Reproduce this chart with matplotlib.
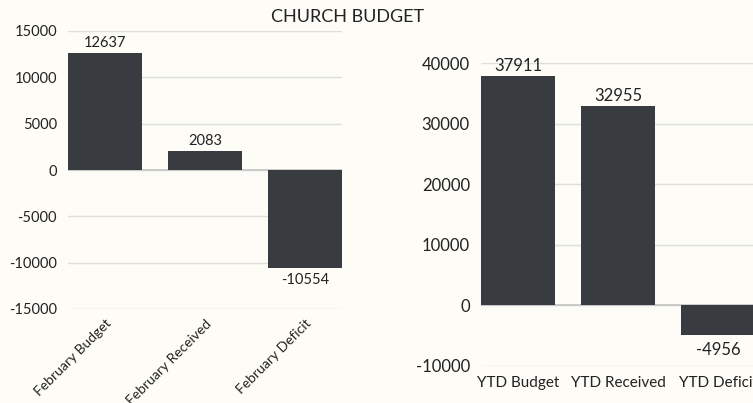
import matplotlib
matplotlib.use('agg')
import matplotlib.pyplot as plt

plt.rcParams['font.family'] = ['Lato', 'DejaVu Sans']

# data
feb_labels = ["February Budget", "February Received", "February Deficit"]
feb_values = [12637, 2083, -10554]
feb_ticks = [-15000, -10000, -5000, 0, 5000, 10000, 15000]

ytd_labels = ["YTD Budget", "YTD Received", "YTD Deficit"]
ytd_values = [37911, 32955, -4956]
ytd_ticks = [-10000, 0, 10000, 20000, 30000, 40000]

bg = "#fdfcf6"
bar_color = "#383c40"
grid_color = "#dedede"

fig = plt.figure(figsize=(7.53, 4.03), dpi=100, facecolor=bg)
ax1 = fig.add_axes([68/753, 1-309/403, 274/753, 278/403])
ax2 = fig.add_axes([481/753, 1-366/403, 274/753, 303/403])

def draw(ax, labels, values, ticks, fs_tick, fs_ann, off, off_neg):
    ax.set_facecolor(bg)
    x = list(range(len(values)))
    bars = ax.bar(x, values, width=0.74, color=bar_color, zorder=3)
    ax.set_xlim(-0.37, len(values) - 0.63)
    ax.set_ylim(ticks[0], ticks[-1])
    ax.set_yticks(ticks)
    ax.set_yticklabels([str(t) for t in ticks], fontsize=fs_tick, color="#222222")
    ax.yaxis.grid(True, color=grid_color, linewidth=1, zorder=0)
    ax.axhline(0, color="#c4c4c4", linewidth=1.2, zorder=2)
    for s in ax.spines.values():
        s.set_visible(False)
    ax.tick_params(axis='both', length=0, pad=8)
    for b, v in zip(bars, values):
        if v >= 0:
            ax.annotate(str(v), (b.get_x() + b.get_width()/2, v), xytext=(0, off),
                        textcoords='offset points', ha='center', va='bottom',
                        fontsize=fs_ann, color="#222222", annotation_clip=False)
        else:
            ax.annotate(str(v), (b.get_x() + b.get_width()/2, v), xytext=(0, -off_neg),
                        textcoords='offset points', ha='center', va='top',
                        fontsize=fs_ann, color="#222222", annotation_clip=False)
    ax.set_xticks(x)

draw(ax1, feb_labels, feb_values, feb_ticks, 10.5, 10.5, 2, 3.5)
ax1.set_xticklabels(feb_labels, rotation=45, ha='right', rotation_mode='anchor',
                    fontsize=10, color="#222222")
ax1.tick_params(axis='x', pad=6)

draw(ax2, ytd_labels, ytd_values, ytd_ticks, 12, 12, 1, 5)
ax2.set_xticklabels(ytd_labels, fontsize=11, color="#222222")
ax2.tick_params(axis='x', pad=7)

fig.text(348/753, 1-17/403, "CHURCH BUDGET", ha='center', va='center',
         fontsize=13, color="#222222")

plt.savefig('out.png', dpi=100, facecolor=bg)
